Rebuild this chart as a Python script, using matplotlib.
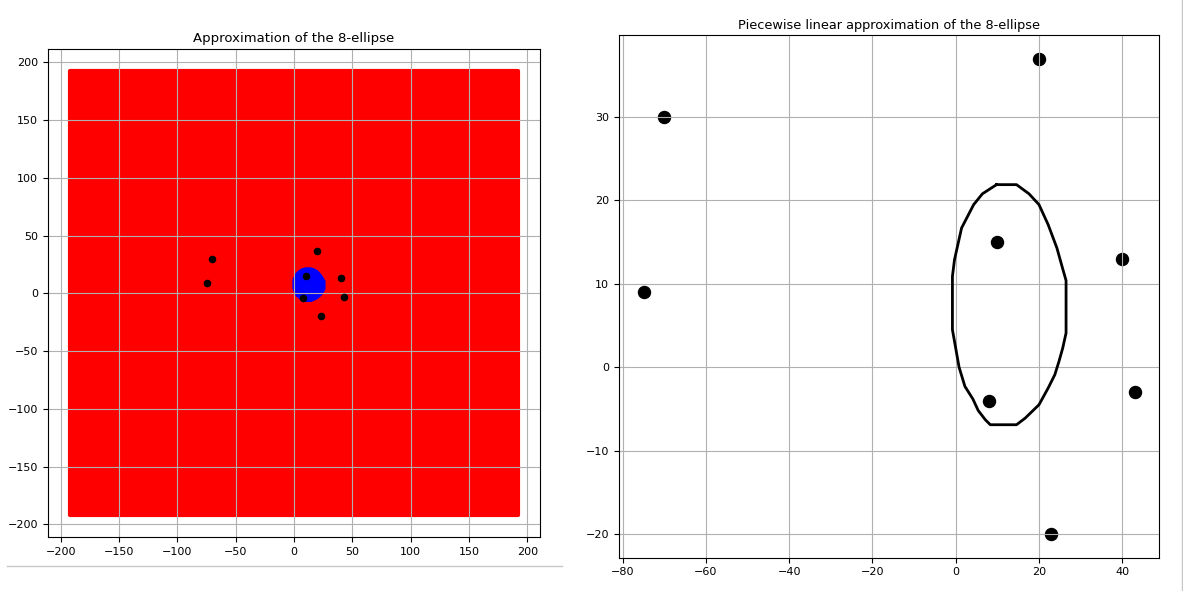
import matplotlib
matplotlib.use('Agg')
import matplotlib.pyplot as plt
from matplotlib.lines import Line2D

# the 8 foci
pts_x = [-70, -75, 20, 10, 40, 8, 43, 23]
pts_y = [30, 9, 37, 15, 13, -4, -3, -20]

# sampled grid extent (left panel)
grid_lo = -192
grid_hi = 192

# piecewise linear boundary of the 8-ellipse
ell_x = [9.8, 14.6, 17.6, 20.0, 22.2, 24.3, 25.7, 26.5, 26.5, 25.7, 24.8, 23.8,
         22.2, 20.0, 16.7, 14.6, 8.3, 7.1, 5.4, 4.1, 2.2, 0.8, -0.8, -0.8,
         -0.3, 1.4, 4.3, 6.4, 9.8]
ell_y = [21.9, 21.9, 20.8, 19.5, 17.1, 14.3, 11.8, 10.4, 4.1, 2.3, 0.7, -0.9,
         -2.5, -4.5, -6.1, -6.9, -6.9, -6.3, -5.2, -3.8, -2.3, 0.0, 4.5, 10.9,
         12.9, 16.7, 19.5, 20.8, 21.9]

W, H = 1183, 591
fig = plt.figure(figsize=(W / 100, H / 100), dpi=100)

def box(l, t, r, b):
    return [l / W, (H - b) / H, (r - l) / W, (b - t) / H]

# left: region approximation
ax1 = fig.add_axes(box(47.7, 49.3, 540.3, 537.3))
ax1.fill([grid_lo, grid_hi, grid_hi, grid_lo], [grid_lo, grid_lo, grid_hi, grid_hi],
         facecolor='red', edgecolor='red', linewidth=3, joinstyle='round')
ax1.fill(ell_x, ell_y, facecolor='blue', edgecolor='blue', linewidth=1)
ax1.scatter(pts_x, pts_y, color='black', s=20, zorder=3)
ax1.grid(True)
ax1.set_title('Approximation of the 8-ellipse', fontsize=9.5, pad=5)

# right: piecewise linear outline
ax2 = fig.add_axes(box(619, 35, 1159.3, 557.7))
ax2.scatter(pts_x, pts_y, color='black', s=75)
ax2.plot(ell_x, ell_y, color='black', linewidth=2)
ax2.grid(True)
ax2.set_title('Piecewise linear approximation of the 8-ellipse', fontsize=9.3, pad=4.5)

for ax in (ax1, ax2):
    ax.tick_params(labelsize=8)

# notebook cell borders
fig.add_artist(Line2D([7 / W, 562 / W], [(H - 566) / H] * 2, color='#c8c8c8', linewidth=1))
fig.add_artist(Line2D([1182 / W] * 2, [0, 1], color='#c8c8c8', linewidth=1))

fig.savefig('out.png', dpi=100)
